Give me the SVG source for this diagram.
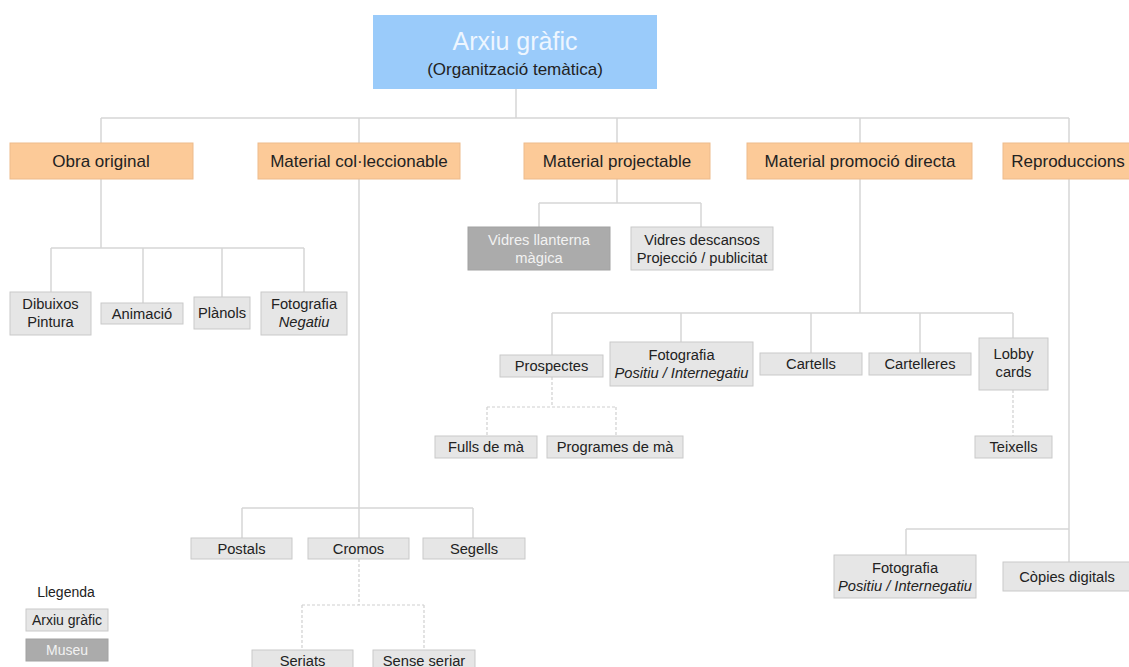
<svg xmlns="http://www.w3.org/2000/svg" width="1129" height="667" viewBox="0 0 1129 667">
  <style>
    text { font-family: "Liberation Sans", Arial, sans-serif; fill: #222; text-anchor: middle; }
    .root { fill: #9ACBFA; }
    .cat { fill: #FCCA98; stroke: #EDBB8C; stroke-width: 1; }
    .item { fill: #E6E6E6; stroke: #C9C9C9; stroke-width: 1; }
    .museum { fill: #ABABAB; stroke: #A2A2A2; stroke-width: 1; }
    .t-cat { font-size: 17px; }
    .t-item { font-size: 14.7px; }
    .t-museum { font-size: 14.7px; fill: #F2F2F2; }
    .it { font-style: italic; }
    .link { fill: none; stroke: #D6D6D6; stroke-width: 1.5; }
    .dash { fill: none; stroke: #D0D0D0; stroke-width: 1.2; stroke-dasharray: 3 2; }
  </style>

  <!-- connectors -->
  <g id="connectors">
    <path class="link" d="M516 89 V118 M101 118 H1069 M101 118 V143 M359 118 V143 M617 118 V143 M860 118 V143 M1069 118 V143"/>
    <!-- Obra original -->
    <path class="link" d="M101 179 V248 M51 248 H304 M51 248 V292 M143 248 V303 M222 248 V297 M304 248 V292"/>
    <!-- Material col·leccionable -->
    <path class="link" d="M359 179 V538 M242 508 H473 M242 508 V538 M473 508 V538"/>
    <path class="dash" d="M359 559 V605 M302 605 H424 M302 605 V650 M424 605 V650"/>
    <!-- Material projectable -->
    <path class="link" d="M617 179 V203 M539 203 H701 M539 203 V227 M701 203 V227"/>
    <!-- Material promoció directa -->
    <path class="link" d="M860 179 V313 M552 313 H1013 M552 313 V355 M681 313 V342 M811 313 V353 M920 313 V353 M1013 313 V338"/>
    <path class="dash" d="M552 377 V407 M487 407 H616 M487 407 V436 M616 407 V436 M1013 390 V436"/>
    <!-- Reproduccions -->
    <path class="link" d="M1069 179 V529 M906 529 H1069 M906 529 V555 M1069 529 V562"/>
  </g>

  <!-- root -->
  <g id="arxiu-grafic">
    <rect class="root" x="373" y="15" width="284" height="74"/>
    <text x="515" y="50" style="font-size:25px; fill:#EEF6FF">Arxiu gràfic</text>
    <text x="515" y="75" style="font-size:17px">(Organització temàtica)</text>
  </g>

  <!-- categories -->
  <g id="obra-original">
    <rect class="cat" x="10" y="143" width="183" height="36"/>
    <text class="t-cat" x="101" y="167">Obra original</text>
  </g>
  <g id="material-colleccionable">
    <rect class="cat" x="258" y="143" width="202" height="36"/>
    <text class="t-cat" x="359" y="167">Material col·leccionable</text>
  </g>
  <g id="material-projectable">
    <rect class="cat" x="524" y="143" width="186" height="36"/>
    <text class="t-cat" x="617" y="167">Material projectable</text>
  </g>
  <g id="material-promocio-directa">
    <rect class="cat" x="747" y="143" width="225" height="36"/>
    <text class="t-cat" x="860" y="167">Material promoció directa</text>
  </g>
  <g id="reproduccions">
    <rect class="cat" x="1003" y="143" width="130" height="36"/>
    <text class="t-cat" x="1068" y="167">Reproduccions</text>
  </g>

  <!-- Obra original items -->
  <g id="dibuixos-pintura">
    <rect class="item" x="10" y="292" width="81" height="43"/>
    <text class="t-item" x="50.5" y="309">Dibuixos</text>
    <text class="t-item" x="50.5" y="327">Pintura</text>
  </g>
  <g id="animacio">
    <rect class="item" x="101" y="303" width="82" height="21"/>
    <text class="t-item" x="142" y="319">Animació</text>
  </g>
  <g id="planols">
    <rect class="item" x="194" y="297" width="56" height="32"/>
    <text class="t-item" x="222" y="318">Plànols</text>
  </g>
  <g id="fotografia-negatiu">
    <rect class="item" x="261" y="292" width="86" height="43"/>
    <text class="t-item" x="304" y="309">Fotografia</text>
    <text class="t-item it" x="304" y="327">Negatiu</text>
  </g>

  <!-- Material projectable items -->
  <g id="vidres-llanterna-magica">
    <rect class="museum" x="468" y="227" width="142" height="43"/>
    <text class="t-museum" x="539" y="245">Vidres llanterna</text>
    <text class="t-museum" x="539" y="263">màgica</text>
  </g>
  <g id="vidres-descansos">
    <rect class="item" x="631" y="227" width="142" height="43"/>
    <text class="t-item" x="702" y="245">Vidres descansos</text>
    <text class="t-item" x="702" y="263">Projecció / publicitat</text>
  </g>

  <!-- Material promoció directa items -->
  <g id="prospectes">
    <rect class="item" x="500" y="355" width="103" height="22"/>
    <text class="t-item" x="551.5" y="371">Prospectes</text>
  </g>
  <g id="fotografia-positiu-promocio">
    <rect class="item" x="610" y="342" width="143" height="44"/>
    <text class="t-item" x="681.5" y="360">Fotografia</text>
    <text class="t-item it" x="681.5" y="378">Positiu / Internegatiu</text>
  </g>
  <g id="cartells">
    <rect class="item" x="760" y="353" width="102" height="22"/>
    <text class="t-item" x="811" y="369">Cartells</text>
  </g>
  <g id="cartelleres">
    <rect class="item" x="869" y="353" width="102" height="22"/>
    <text class="t-item" x="920" y="369">Cartelleres</text>
  </g>
  <g id="lobby-cards">
    <rect class="item" x="979" y="338" width="69" height="52"/>
    <text class="t-item" x="1013.5" y="359">Lobby</text>
    <text class="t-item" x="1013.5" y="377">cards</text>
  </g>
  <g id="fulls-de-ma">
    <rect class="item" x="435" y="436" width="102" height="22"/>
    <text class="t-item" x="486" y="452">Fulls de mà</text>
  </g>
  <g id="programes-de-ma">
    <rect class="item" x="547" y="436" width="136" height="22"/>
    <text class="t-item" x="615" y="452">Programes de mà</text>
  </g>
  <g id="teixells">
    <rect class="item" x="975" y="436" width="77" height="22"/>
    <text class="t-item" x="1013.5" y="452">Teixells</text>
  </g>

  <!-- Material col·leccionable items -->
  <g id="postals">
    <rect class="item" x="191" y="538" width="101" height="21"/>
    <text class="t-item" x="241.5" y="554">Postals</text>
  </g>
  <g id="cromos">
    <rect class="item" x="308" y="538" width="101" height="21"/>
    <text class="t-item" x="358.5" y="554">Cromos</text>
  </g>
  <g id="segells">
    <rect class="item" x="423" y="538" width="102" height="21"/>
    <text class="t-item" x="474" y="554">Segells</text>
  </g>
  <g id="seriats">
    <rect class="item" x="252" y="650" width="101" height="22"/>
    <text class="t-item" x="302.5" y="666">Seriats</text>
  </g>
  <g id="sense-seriar">
    <rect class="item" x="373" y="650" width="102" height="22"/>
    <text class="t-item" x="424" y="666">Sense seriar</text>
  </g>

  <!-- Reproduccions items -->
  <g id="fotografia-positiu-reproduccio">
    <rect class="item" x="834" y="555" width="142" height="43"/>
    <text class="t-item" x="905" y="573">Fotografia</text>
    <text class="t-item it" x="905" y="591">Positiu / Internegatiu</text>
  </g>
  <g id="copies-digitals">
    <rect class="item" x="1003" y="562" width="130" height="29"/>
    <text class="t-item" x="1067" y="582">Còpies digitals</text>
  </g>

  <!-- legend -->
  <g id="llegenda">
    <text x="66" y="597" style="font-size:14px">Llegenda</text>
    <rect class="item" x="26" y="609" width="82" height="22"/>
    <text x="67" y="625" style="font-size:14px">Arxiu gràfic</text>
    <rect class="museum" x="26" y="639" width="82" height="22"/>
    <text x="67" y="655" style="font-size:14px; fill:#F2F2F2">Museu</text>
  </g>
</svg>
